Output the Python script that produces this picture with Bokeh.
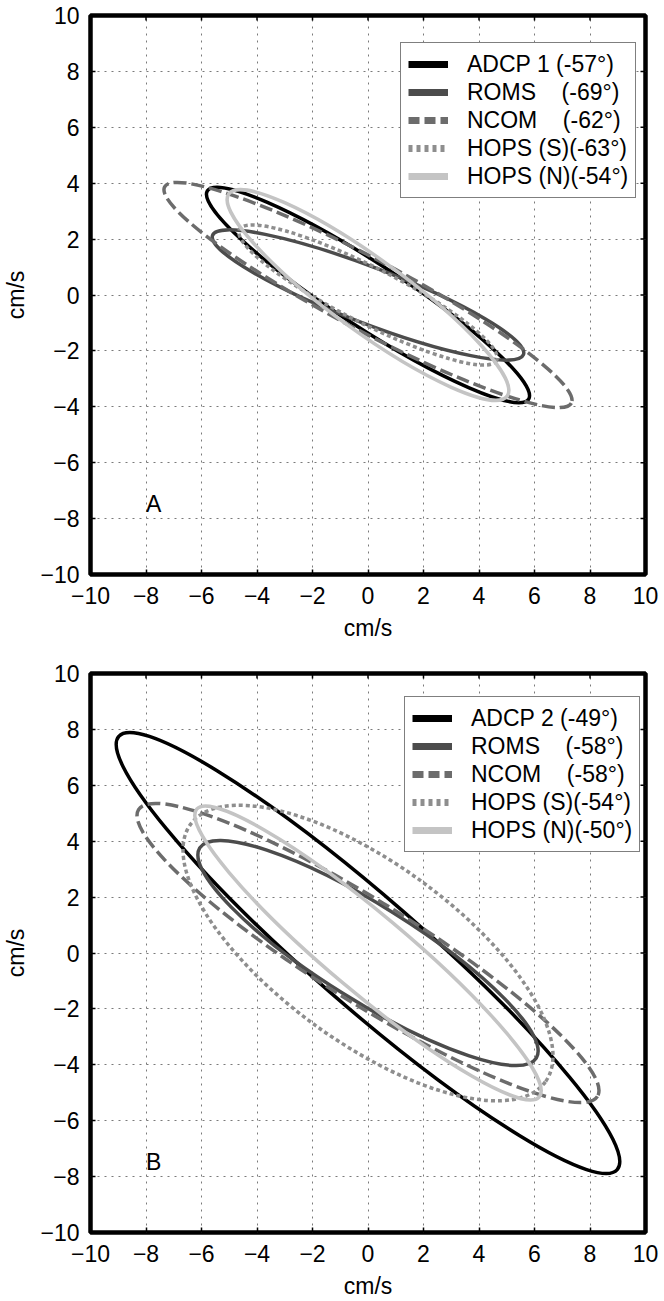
import math
from bokeh.plotting import figure
from bokeh.layouts import column
from bokeh.models import (FixedTicker, Legend, LegendItem, Range1d, Label)
from bokeh.embed import file_html
from bokeh.resources import INLINE

# ---------------- data ----------------
ticks = [-10, -8, -6, -4, -2, 0, 2, 4, 6, 8, 10]
series = ["ADCP", "ROMS", "NCOM", "HOPS (S)", "HOPS (N)"]

# panel A
labels_a = ["ADCP 1 (-57°)", "ROMS\u00a0\u00a0\u00a0\u00a0(-69°)", "NCOM\u00a0\u00a0\u00a0\u00a0(-62°)",
            "HOPS (S)(-63°)", "HOPS (N)(-54°)"]
orient_a = [-57, -69, -62, -63, -54]          # principal-axis orientation (deg, from north)
major_a = [6.9, 6.0, 8.3, 5.2, 6.2]           # semi-major axis (cm/s)
minor_a = [1.15, 1.0, 1.27, 1.0, 1.3]         # semi-minor axis (cm/s)
cx_a = [0, 0, 0, 0, 0]                        # ellipse centres (cm/s)
cy_a = [0, 0, 0, 0, 0]

# panel B
labels_b = ["ADCP 2 (-49°)", "ROMS\u00a0\u00a0\u00a0\u00a0(-58°)", "NCOM\u00a0\u00a0\u00a0\u00a0(-58°)",
            "HOPS (S)(-54°)", "HOPS (N)(-50°)"]
orient_b = [-49, -58, -58, -54, -50]
major_b = [11.9, 7.15, 9.75, 7.9, 8.06]
minor_b = [1.95, 1.7, 1.8, 3.2, 1.4]
cx_b = [0, 0, 0, 0, 0]
cy_b = [0, 0, 0, 0, 0]

# ---------------- styles ----------------
colors = ["#000000", "#4c4c4c", "#6c6c6c", "#8e8e8e", "#c4c4c4"]
dashes = ["solid", "solid", "13 5", "4 3", "solid"]
key_dashes = ["solid", "solid", "11 5", "4 4", "solid"]
FONT = "Liberation Sans"
FS_TICK = "23px"
FS_TEXT = "23px"


def make_panel(tag, labels, orient, major, minor, cx, cy, height, top, bottom, leg_loc):
    p = figure(width=664, height=height, x_range=Range1d(-10, 10), y_range=Range1d(-10, 10),
               output_backend="svg", toolbar_location=None,
               min_border_left=87, min_border_right=19, min_border_top=top, min_border_bottom=bottom)
    p.background_fill_color = "white"
    p.border_fill_color = "white"
    p.outline_line_color = "black"
    p.outline_line_width = 4.5

    for ax in (p.xaxis[0], p.yaxis[0]):
        ax.ticker = FixedTicker(ticks=ticks)
        ax.axis_line_color = None
        ax.major_tick_in = 5
        ax.major_tick_out = 0
        ax.major_tick_line_color = "black"
        ax.major_tick_line_width = 1.5
        ax.minor_tick_line_color = None
        ax.major_label_text_font = FONT
        ax.major_label_text_font_size = FS_TICK
        ax.major_label_text_color = "black"
        ax.major_label_standoff = 11
        ax.axis_label = "cm/s"
        ax.axis_label_text_font = FONT
        ax.axis_label_text_font_size = FS_TICK
        ax.axis_label_text_font_style = "normal"
        ax.axis_label_text_color = "black"
        ax.axis_label_standoff = 8
    p.xaxis[0].major_label_standoff = 12

    # inward ticks on the top and right frame edges, at the tick values
    p.ray(x=ticks, y=[p.y_range.end] * len(ticks), length=5, length_units="screen",
          angle=-math.pi / 2, line_color="black", line_width=1.5)
    p.ray(x=[p.x_range.end] * len(ticks), y=ticks, length=5, length_units="screen",
          angle=math.pi, line_color="black", line_width=1.5)

    for g in (p.xgrid[0], p.ygrid[0]):
        g.ticker = FixedTicker(ticks=ticks)
        g.grid_line_color = "#7a7a7a"
        g.grid_line_dash = "2 5"
        g.grid_line_width = 1

    items = []
    for i in range(len(series)):
        theta = -math.radians(90 + orient[i])
        p.ellipse(x=[cx[i]], y=[cy[i]], width=[2 * major[i]], height=[2 * minor[i]], angle=[theta],
                  fill_color=None, line_color=colors[i], line_width=3.5, line_dash=dashes[i])
        key = p.line(x=[cx[i]], y=[cy[i]], line_color=colors[i], line_width=7, line_dash=key_dashes[i])
        items.append(LegendItem(label=labels[i], renderers=[key]))

    leg = Legend(items=items, location=leg_loc, label_text_font=FONT, label_text_font_size=FS_TEXT,
                 label_text_color="black", glyph_width=40, glyph_height=28, label_height=28,
                 label_standoff=19, spacing=0, padding=7, margin=0,
                 border_line_color="black", border_line_width=1.5,
                 background_fill_color="white", background_fill_alpha=1.0)
    p.add_layout(leg, "center")

    p.add_layout(Label(x=-8.0, y=-7.95, text=tag, text_font=FONT, text_font_size=FS_TICK,
                       text_color="black", text_align="left", text_baseline="bottom"))
    return p


pA = make_panel("A", labels_a, orient_a, major_a, minor_a, cx_a, cy_a, 655, 15, 81, (310, 376))
pB = make_panel("B", labels_b, orient_b, major_b, minor_b, cx_b, cy_b, 646, 18, 68, (314, 380))

layout = column(pA, pB, spacing=0)
open("out.html", "w").write(file_html(layout, INLINE))
